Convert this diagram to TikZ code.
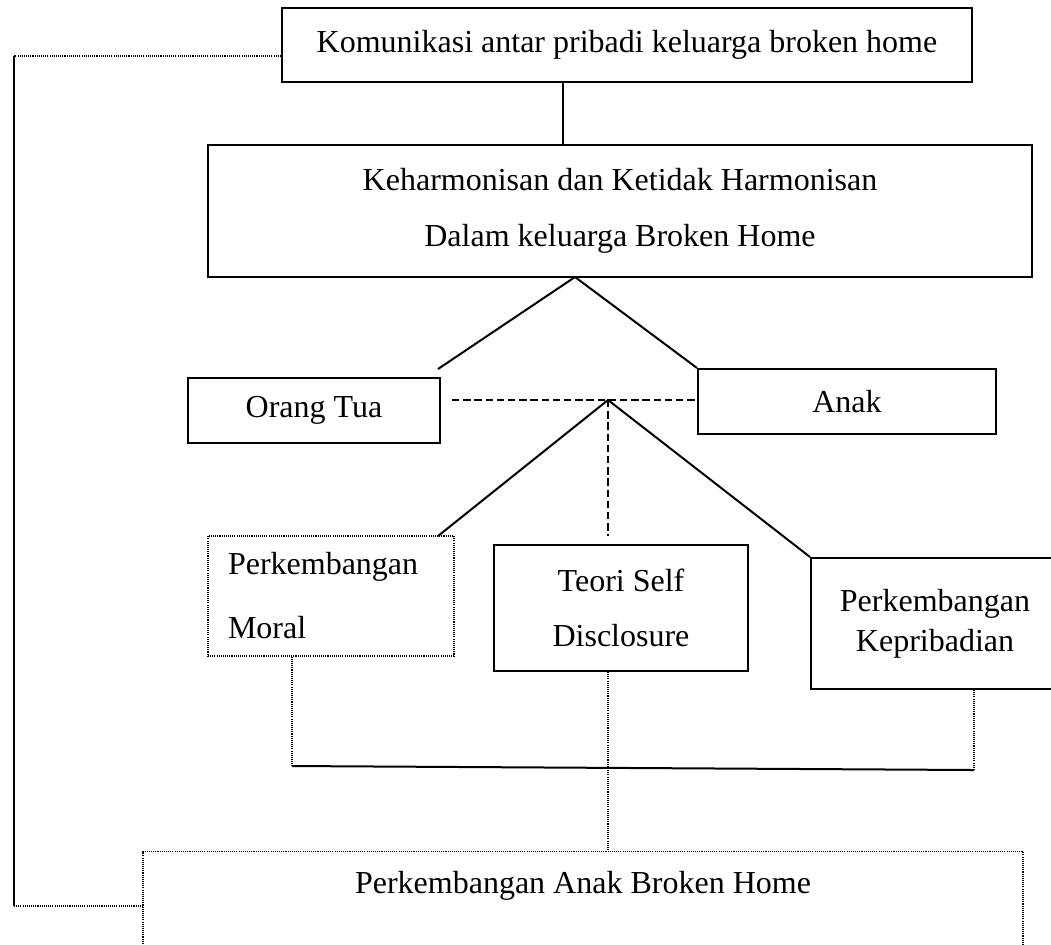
\documentclass[tikz,border=0pt]{standalone}
\usepackage{fontspec}
\setmainfont{Liberation Serif}

\begin{document}
\begin{tikzpicture}[x=0.375pt, y=-0.375pt, every node/.style={font=\fontsize{12}{14.5}\selectfont}, box/.style={rectangle, draw=black, line width=0.75pt, align=center, inner sep=0pt}, dotbox/.style={box, line width=0.5pt, dash pattern=on 0.4pt off 0.4pt}, link/.style={line width=0.75pt}, dashlink/.style={line width=0.75pt, dash pattern=on 2.8pt off 1.4pt}, dotlink/.style={line width=0.5pt, dash pattern=on 0.4pt off 0.4pt}]
\useasboundingbox (0,0) rectangle (1051,944);
\clip (0,0) rectangle (1051,944);
\node[box, minimum width=258.75pt, minimum height=27.75pt] (komunikasi) at (627,45) {Komunikasi antar pribadi keluarga broken home};
\node[box, minimum width=309pt, minimum height=49.5pt] (harmonis) at (620,211) {Keharmonisan dan Ketidak Harmonisan\\[6.5pt] Dalam keluarga Broken Home};
\node[box, minimum width=94.5pt, minimum height=24.375pt] (orangtua) at (314,410.5) {Orang Tua};
\node[box, minimum width=111.75pt, minimum height=24.375pt] (anak) at (847,401.5) {Anak};
\node[dotbox, align=left, text width=77.25pt, inner xsep=7.5pt, minimum height=45pt] (moral) at (331,596) {Perkembangan\\[9.5pt] Moral};
\node[box, minimum width=95.25pt, minimum height=47.25pt] (selfdisc) at (621,608) {Teori Self\\[6pt] Disclosure};
\node[box, minimum width=93pt, minimum height=49.125pt] (kepribadian) at (935,623.5) {Perkembangan\\[0.5pt] Kepribadian};
\node[dotbox, anchor=north, minimum width=330pt, inner ysep=7.25pt, text height=8.5pt, text depth=30pt] (anakbh) at (583,851) {Perkembangan Anak Broken Home};
\coordinate (ltop) at (14,56);
\coordinate (lbot) at (14,906);
\coordinate (apex1) at (575,277);
\coordinate (otcorner) at (438,369);
\coordinate (otdash) at (452,400);
\coordinate (apex2) at (608,400);
\coordinate (mlcorner) at (438,536);
\coordinate (mlfoot) at (292,766);
\coordinate (kpfoot) at (974,770);
\draw[link] ([xshift=-24pt]komunikasi.south) -- ([xshift=-24pt]komunikasi.south |- harmonis.north);
\draw[dotlink] ([yshift=-4.125pt]komunikasi.west) -- (ltop);
\draw[link] (ltop) -- (lbot);
\draw[dotlink] (lbot) -- (lbot -| anakbh.west);
\draw[link] (otcorner) -- (apex1) -- (anak.north west);
\draw[dashlink] (otdash) -- (anak.west |- otdash);
\draw[link] (mlcorner) -- (apex2) -- (kepribadian.north west);
\draw[dashlink] (apex2) -- (apex2 |- mlcorner);
\draw[dotlink] (moral.south -| mlfoot) -- (mlfoot);
\draw[link] (mlfoot) -- (kpfoot);
\draw[dotlink] (kepribadian.south -| kpfoot) -- (kpfoot);
\draw[dotlink] (selfdisc.south -| apex2) -- (anakbh.north -| apex2);
\end{tikzpicture}
\end{document}
